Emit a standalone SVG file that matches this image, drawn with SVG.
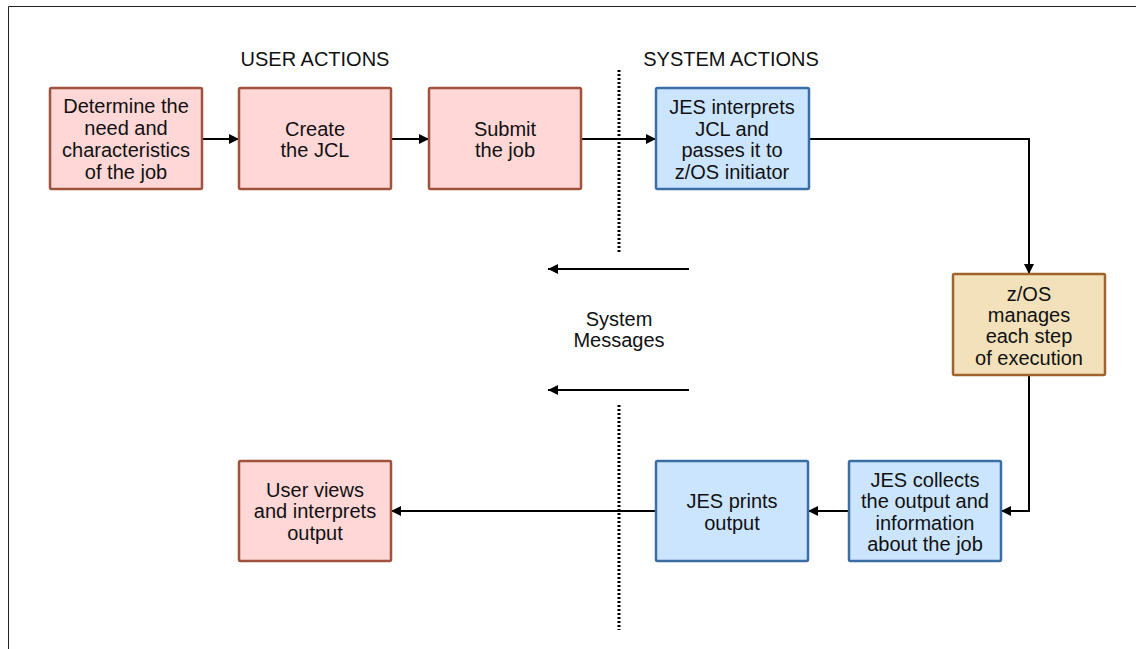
<svg xmlns="http://www.w3.org/2000/svg" width="1136" height="649" viewBox="0 0 1136 649">
<style>
text{font-family:"Liberation Sans",Arial,sans-serif;font-size:20px;fill:#111;text-anchor:middle}
.user rect{fill:#FFD7D7;stroke:#A0523D;stroke-width:2.5}
.sys rect{fill:#CCE5FF;stroke:#3A6EA5;stroke-width:2.5}
.os rect{fill:#F2E1BA;stroke:#A0632D;stroke-width:2.5}
.conn{fill:none;stroke:#000;stroke-width:2}
.dot{fill:none;stroke:#000;stroke-width:3;stroke-dasharray:2 2}
</style>
<defs>
<marker id="ah" viewBox="0 0 10 10" refX="10" refY="5" markerWidth="5.5" markerHeight="5" orient="auto" markerUnits="strokeWidth">
<path d="M0,0 L10,5 L0,10 z" fill="#000"/>
</marker>
</defs>
<rect x="0" y="0" width="1136" height="649" fill="#fff"/>
<path d="M8.5,649 V6.5 H1136" fill="none" stroke="#222" stroke-width="1"/>
<g id="labels">
<text x="315" y="66">USER ACTIONS</text>
<text x="731" y="66">SYSTEM ACTIONS</text>
<text x="619" y="326">System</text>
<text x="619" y="347">Messages</text>
</g>
<g id="dividers">
<line class="dot" x1="619" y1="70" x2="619" y2="253"/>
<line class="dot" x1="619" y1="405" x2="619" y2="630"/>
</g>
<g id="connectors">
<line class="conn" x1="202" y1="139" x2="239" y2="139" marker-end="url(#ah)"/>
<line class="conn" x1="391" y1="139" x2="429" y2="139" marker-end="url(#ah)"/>
<line class="conn" x1="581" y1="139" x2="656" y2="139" marker-end="url(#ah)"/>
<path class="conn" d="M809,139 H1029 V274" marker-end="url(#ah)"/>
<path class="conn" d="M1029,375 V511 H1001" marker-end="url(#ah)"/>
<line class="conn" x1="849" y1="511" x2="808" y2="511" marker-end="url(#ah)"/>
<line class="conn" x1="656" y1="511" x2="391" y2="511" marker-end="url(#ah)"/>
<line class="conn" x1="689" y1="269" x2="548" y2="269" marker-end="url(#ah)"/>
<line class="conn" x1="689" y1="390" x2="548" y2="390" marker-end="url(#ah)"/>
</g>
<g id="determine" class="user">
<rect x="50" y="88" width="152" height="101" rx="1.5"/>
<text x="126" y="113">Determine the</text>
<text x="126" y="135">need and</text>
<text x="126" y="157">characteristics</text>
<text x="126" y="179">of the job</text>
</g>
<g id="create" class="user">
<rect x="239" y="88" width="152" height="101" rx="1.5"/>
<text x="315" y="136">Create</text>
<text x="315" y="157">the JCL</text>
</g>
<g id="submit" class="user">
<rect x="429" y="88" width="152" height="101" rx="1.5"/>
<text x="505" y="136">Submit</text>
<text x="505" y="157">the job</text>
</g>
<g id="jes-interprets" class="sys">
<rect x="656" y="88" width="153" height="101" rx="1.5"/>
<text x="732" y="114">JES interprets</text>
<text x="732" y="136">JCL and</text>
<text x="732" y="157">passes it to</text>
<text x="732" y="179">z/OS initiator</text>
</g>
<g id="zos-manages" class="os">
<rect x="953" y="274" width="152" height="101" rx="1.5"/>
<text x="1029" y="301">z/OS</text>
<text x="1029" y="322">manages</text>
<text x="1029" y="343">each step</text>
<text x="1029" y="365">of execution</text>
</g>
<g id="jes-collects" class="sys">
<rect x="849" y="461" width="152" height="100" rx="1.5"/>
<text x="925" y="487">JES collects</text>
<text x="925" y="508">the output and</text>
<text x="925" y="530">information</text>
<text x="925" y="551">about the job</text>
</g>
<g id="jes-prints" class="sys">
<rect x="656" y="461" width="152" height="100" rx="1.5"/>
<text x="732" y="508">JES prints</text>
<text x="732" y="530">output</text>
</g>
<g id="user-views" class="user">
<rect x="239" y="461" width="152" height="100" rx="1.5"/>
<text x="315" y="497">User views</text>
<text x="315" y="518">and interprets</text>
<text x="315" y="540">output</text>
</g>
</svg>
